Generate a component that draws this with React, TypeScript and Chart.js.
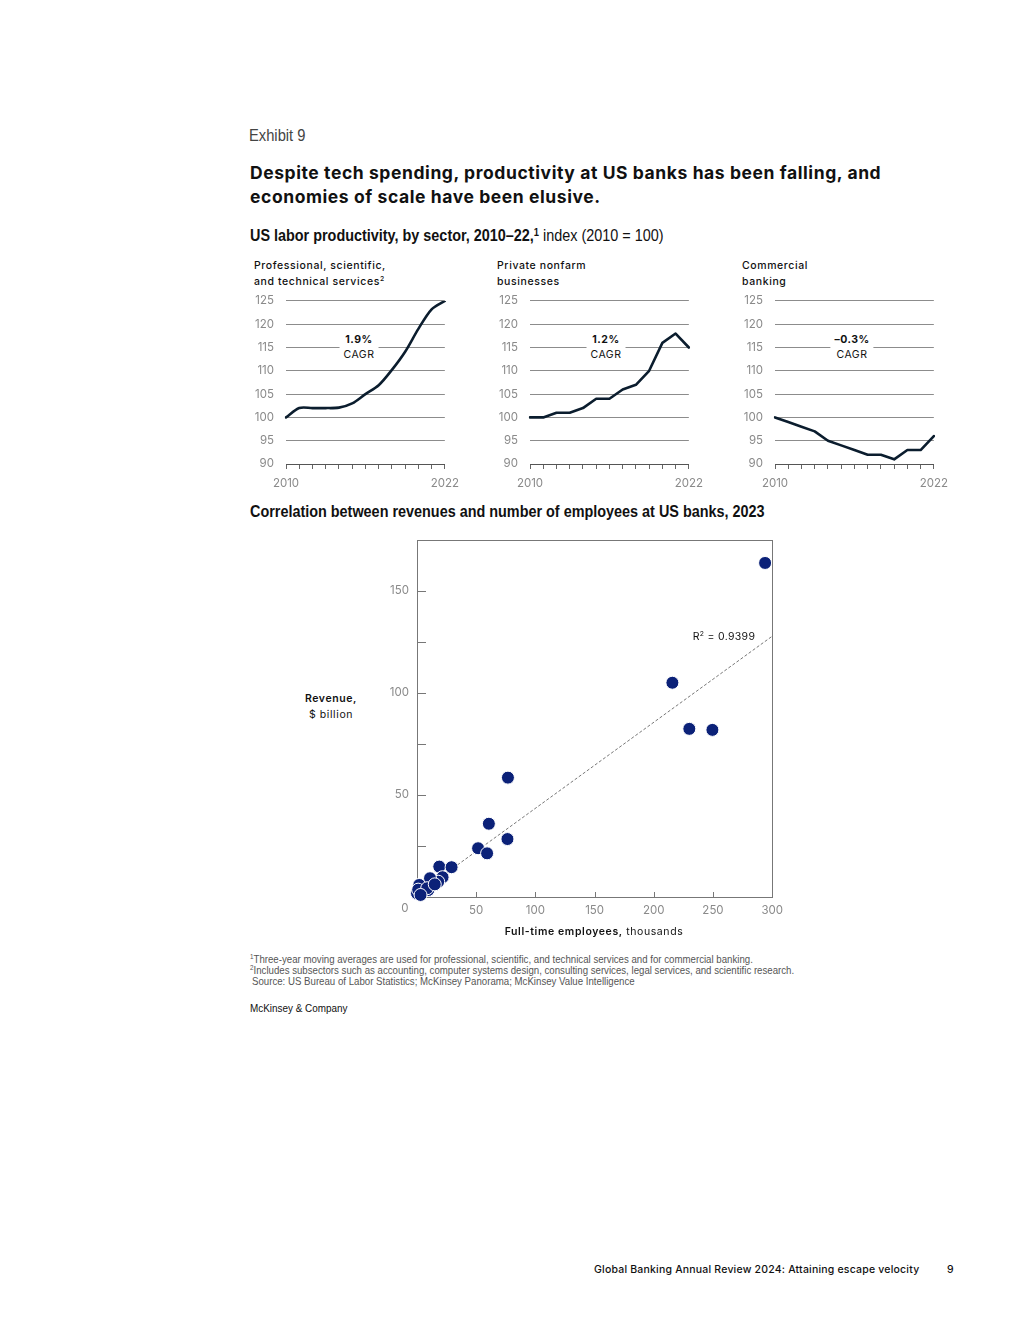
import React, { useEffect, useRef } from "react";
import { Chart, registerables } from "chart.js";

Chart.register(...registerables);

// ---------- DATA ----------
const years = ["2010", "2011", "2012", "2013", "2014", "2015", "2016", "2017", "2018", "2019", "2020", "2021", "2022"];
const proServices = [100, 102, 102, 102, 102.1, 103, 105, 106.9, 110.2, 114.1, 119, 123.2, 125];
const nonfarm = [100, 100, 101, 101, 102, 104, 104, 106, 107, 110, 116, 118, 115];
const banking = [100, 99, 98, 97, 95, 94, 93, 92, 92, 91, 93, 93, 96];

const bankEmployees = [294, 215.7, 230, 249.5, 76.8, 60.7, 76.4, 51.6, 59.2, 18.8, 29.2, 21.6, 17.9, 11, 9.5, 1.9, 0, 1, 8.6, 3, 15];
const bankRevenue = [163.7, 105, 82.4, 81.9, 58.5, 35.9, 28.4, 23.9, 21.4, 14.9, 14.6, 9.7, 7.5, 9.2, 3.4, 5.9, 1.8, 3.6, 4.3, 1, 6.2];
const trendX = [0, 300];
const trendY = [1.3, 127.8];
const scatterYLabels = [50, 100, 150];

const TICK_FONT = "Inter, 'Noto Sans', sans-serif";
const NARROW = "'Liberation Sans', Arial, sans-serif";
const LINE_COLOR = "#0b1d2e";
const TICK_COLOR = "#8a8a8a";

function SmallChart({ data, left, tension }: { data: number[]; left: number; tension: number }) {
  const ref = useRef<HTMLCanvasElement>(null);
  useEffect(() => {
    const c = new Chart(ref.current!, {
      type: "line",
      data: {
        labels: years,
        datasets: [
          {
            data,
            borderColor: LINE_COLOR,
            borderWidth: 2.6,
            pointRadius: 0,
            tension,
            borderJoinStyle: "round",
            borderCapStyle: "round",
          },
        ],
      },
      options: {
        animation: false,
        responsive: false,
        maintainAspectRatio: false,
        layout: { padding: { top: 10, right: 20, left: 0, bottom: 0 } },
        plugins: { legend: { display: false }, tooltip: { enabled: false } },
        scales: {
          x: {
            grid: { display: true, drawOnChartArea: false, drawTicks: true, tickLength: 5, color: "#666" },
            border: { display: true, color: "#555", width: 1 },
            ticks: {
              autoSkip: false,
              maxRotation: 0,
              padding: 8,
              color: TICK_COLOR,
              font: { family: TICK_FONT, size: 11.5 },
              callback: (_v: any, i: number) => (i === 0 || i === years.length - 1 ? years[i] : ""),
            },
            afterFit: (s: any) => {
              s.height = 30;
            },
          },
          y: {
            min: 90,
            max: 125,
            ticks: { stepSize: 5, color: TICK_COLOR, font: { family: TICK_FONT, size: 11.5 }, padding: 12 },
            grid: { color: "#8c8c8c", drawTicks: false, lineWidth: 1 },
            border: { display: false },
            afterFit: (s: any) => {
              s.width = 38;
            },
          },
        },
      },
    } as any);
    return () => c.destroy();
  }, []);
  return (
    <canvas
      ref={ref}
      width={219}
      height={212}
      style={{ position: "absolute", left: left - 38, top: 282, width: 219, height: 212 }}
    />
  );
}

const boxPlugin = {
  id: "boxPlugin",
  beforeDatasetsDraw(chart: any) {
    const { ctx, chartArea } = chart;
    const { left, right, top, bottom } = chartArea;
    const xs = chart.scales.x;
    const ys = chart.scales.y;
    ctx.save();
    ctx.strokeStyle = "#777";
    ctx.lineWidth = 1;
    ctx.strokeRect(Math.round(left) + 0.5, Math.round(top) + 0.5, Math.round(right - left), Math.round(bottom - top));
    ctx.beginPath();
    for (let v = 25; v <= 150; v += 25) {
      const y = Math.round(ys.getPixelForValue(v)) + 0.5;
      ctx.moveTo(left, y);
      ctx.lineTo(left + 9, y);
    }
    for (let v = 50; v <= 250; v += 50) {
      const x = Math.round(xs.getPixelForValue(v)) + 0.5;
      ctx.moveTo(x, bottom);
      ctx.lineTo(x, bottom - 5);
    }
    ctx.stroke();
    ctx.restore();
  },
};

function Scatter() {
  const ref = useRef<HTMLCanvasElement>(null);
  useEffect(() => {
    const c = new Chart(ref.current!, {
      type: "scatter",
      data: {
        datasets: [
          {
            type: "scatter",
            data: bankEmployees.map((x, i) => ({ x, y: bankRevenue[i] })),
            pointRadius: 6.5,
            backgroundColor: "#0b2178",
            borderColor: "#ffffff",
            borderWidth: 1,
            clip: false,
          },
          {
            type: "line",
            data: trendX.map((x, i) => ({ x, y: trendY[i] })),
            borderColor: "#777",
            borderWidth: 1,
            borderDash: [3, 2],
            pointRadius: 0,
            fill: false,
          },
        ],
      },
      options: {
        animation: false,
        responsive: false,
        maintainAspectRatio: false,
        layout: { padding: { top: 10, right: 17, left: 0, bottom: 0 } },
        plugins: { legend: { display: false }, tooltip: { enabled: false } },
        scales: {
          x: {
            type: "linear",
            min: 0,
            max: 300,
            grid: { display: false, drawTicks: false },
            border: { display: false },
            ticks: {
              stepSize: 50,
              padding: 7,
              maxRotation: 0,
              color: TICK_COLOR,
              font: { family: TICK_FONT, size: 11.5 },
              callback: (v: any) => (v === 0 ? "" : String(v)),
            },
            afterFit: (s: any) => {
              s.height = 25;
            },
          },
          y: {
            type: "linear",
            min: 0,
            max: 175,
            grid: { display: false, drawTicks: false },
            border: { display: false },
            ticks: {
              stepSize: 25,
              padding: 8,
              color: TICK_COLOR,
              font: { family: TICK_FONT, size: 11.5 },
              callback: (v: any) => (scatterYLabels.includes(v) ? String(v) : ""),
            },
            afterFit: (s: any) => {
              s.width = 47;
            },
          },
        },
      },
      plugins: [boxPlugin],
    } as any);
    return () => c.destroy();
  }, []);
  return (
    <canvas
      ref={ref}
      width={420}
      height={397}
      style={{ position: "absolute", left: 370, top: 525, width: 420, height: 397 }}
    />
  );
}

function T({
  x,
  y,
  children,
  style,
  center,
  sx,
}: {
  x: number;
  y: number;
  children: any;
  style?: React.CSSProperties;
  center?: boolean;
  sx?: number;
}) {
  const base = center ? "translate(-50%, -50%)" : "translateY(-50%)";
  return (
    <div
      style={{
        position: "absolute",
        left: x,
        top: y,
        transform: sx ? `${base} scaleX(${sx})` : base,
        transformOrigin: "left center",
        whiteSpace: "nowrap",
        lineHeight: 1.2,
        textAlign: center ? "center" : "left",
        ...style,
      }}
    >
      {children}
    </div>
  );
}

const small: React.CSSProperties = {
  fontFamily: TICK_FONT,
  fontSize: 10.5,
  fontWeight: 500,
  letterSpacing: 0.6,
  color: "#111",
};

const sup: React.CSSProperties = { fontSize: "0.65em", verticalAlign: "0.5em", lineHeight: 0 };

function Cagr({ x, value }: { x: number; value: string }) {
  return (
    <div
      style={{
        position: "absolute",
        left: x,
        top: 347,
        transform: "translate(-50%, -50%)",
        background: "#fff",
        padding: "0 4px",
        textAlign: "center",
        whiteSpace: "nowrap",
        lineHeight: "15px",
        ...small,
        letterSpacing: 0.5,
      }}
    >
      <div style={{ fontWeight: 700 }}>{value}</div>
      <div style={{ fontWeight: 400 }}>CAGR</div>
    </div>
  );
}

export default function App() {
  return (
    <div
      style={{
        position: "absolute",
        left: 0,
        top: 0,
        width: 1020,
        height: 1320,
        background: "#fff",
        overflow: "hidden",
      }}
    >
      <T x={249} y={136} sx={0.92} style={{ fontFamily: NARROW, fontSize: 16, color: "#444" }}>
        Exhibit 9
      </T>
      <T x={250} y={172} style={{ fontFamily: TICK_FONT, fontSize: 17.5, fontWeight: 700, color: "#111", letterSpacing: 0.58 }}>
        Despite tech spending, productivity at US banks has been falling, and
      </T>
      <T x={250} y={196} style={{ fontFamily: TICK_FONT, fontSize: 17.5, fontWeight: 700, color: "#111", letterSpacing: 0.58 }}>
        economies of scale have been elusive.
      </T>
      <T x={250} y={236} sx={0.9} style={{ fontFamily: NARROW, fontSize: 16, color: "#111" }}>
        <b>
          US labor productivity, by sector, 2010–22,<sup style={sup}>1</sup>
        </b>{" "}
        index (2010 = 100)
      </T>

      <T x={254} y={266} style={small}>Professional, scientific,</T>
      <T x={254} y={282} style={small}>
        and technical services<sup style={sup}>2</sup>
      </T>
      <T x={497} y={266} style={small}>Private nonfarm</T>
      <T x={497} y={282} style={small}>businesses</T>
      <T x={742} y={266} style={small}>Commercial</T>
      <T x={742} y={282} style={small}>banking</T>

      <SmallChart data={proServices} left={286} tension={0.3} />
      <SmallChart data={nonfarm} left={530} tension={0} />
      <SmallChart data={banking} left={775} tension={0} />

      <Cagr x={359} value="1.9%" />
      <Cagr x={606} value="1.2%" />
      <Cagr x={852} value="–0.3%" />

      <T x={250} y={512} sx={0.9} style={{ fontFamily: NARROW, fontSize: 16, fontWeight: 700, color: "#111" }}>
        Correlation between revenues and number of employees at US banks, 2023
      </T>

      <Scatter />

      <T x={405} y={909} center style={{ fontFamily: TICK_FONT, fontSize: 11.5, color: TICK_COLOR }}>0</T>
      <T x={724} y={637} center style={{ ...small, fontWeight: 400, letterSpacing: 0.3 }}>
        R<sup style={sup}>2</sup> = 0.9399
      </T>
      <T x={331} y={699} center style={{ ...small, fontWeight: 600 }}>Revenue,</T>
      <T x={331} y={715} center style={{ ...small, fontWeight: 400 }}>$ billion</T>
      <T x={594} y={932} center style={small}>
        <span style={{ fontWeight: 600 }}>Full-time employees,</span> <span style={{ fontWeight: 400 }}>thousands</span>
      </T>

      <T x={250} y={959} sx={0.92} style={{ fontFamily: NARROW, fontSize: 10.5, color: "#555" }}>
        <sup style={sup}>1</sup>Three-year moving averages are used for professional, scientific, and technical services and for commercial banking.
      </T>
      <T x={250} y={970} sx={0.92} style={{ fontFamily: NARROW, fontSize: 10.5, color: "#555" }}>
        <sup style={sup}>2</sup>Includes subsectors such as accounting, computer systems design, consulting services, legal services, and scientific research.
      </T>
      <T x={252} y={981} sx={0.92} style={{ fontFamily: NARROW, fontSize: 10.5, color: "#555" }}>
        Source: US Bureau of Labor Statistics; McKinsey Panorama; McKinsey Value Intelligence
      </T>
      <T x={250} y={1009} sx={0.9} style={{ fontFamily: NARROW, fontSize: 11, color: "#111" }}>
        McKinsey &amp; Company
      </T>

      <T x={594} y={1270} style={{ fontFamily: TICK_FONT, fontSize: 10.5, fontWeight: 500, color: "#111", letterSpacing: 0.2 }}>
        Global Banking Annual Review 2024: Attaining escape velocity
      </T>
      <T x={947} y={1270} style={{ fontFamily: TICK_FONT, fontSize: 10.5, fontWeight: 500, color: "#111" }}>
        9
      </T>
    </div>
  );
}
